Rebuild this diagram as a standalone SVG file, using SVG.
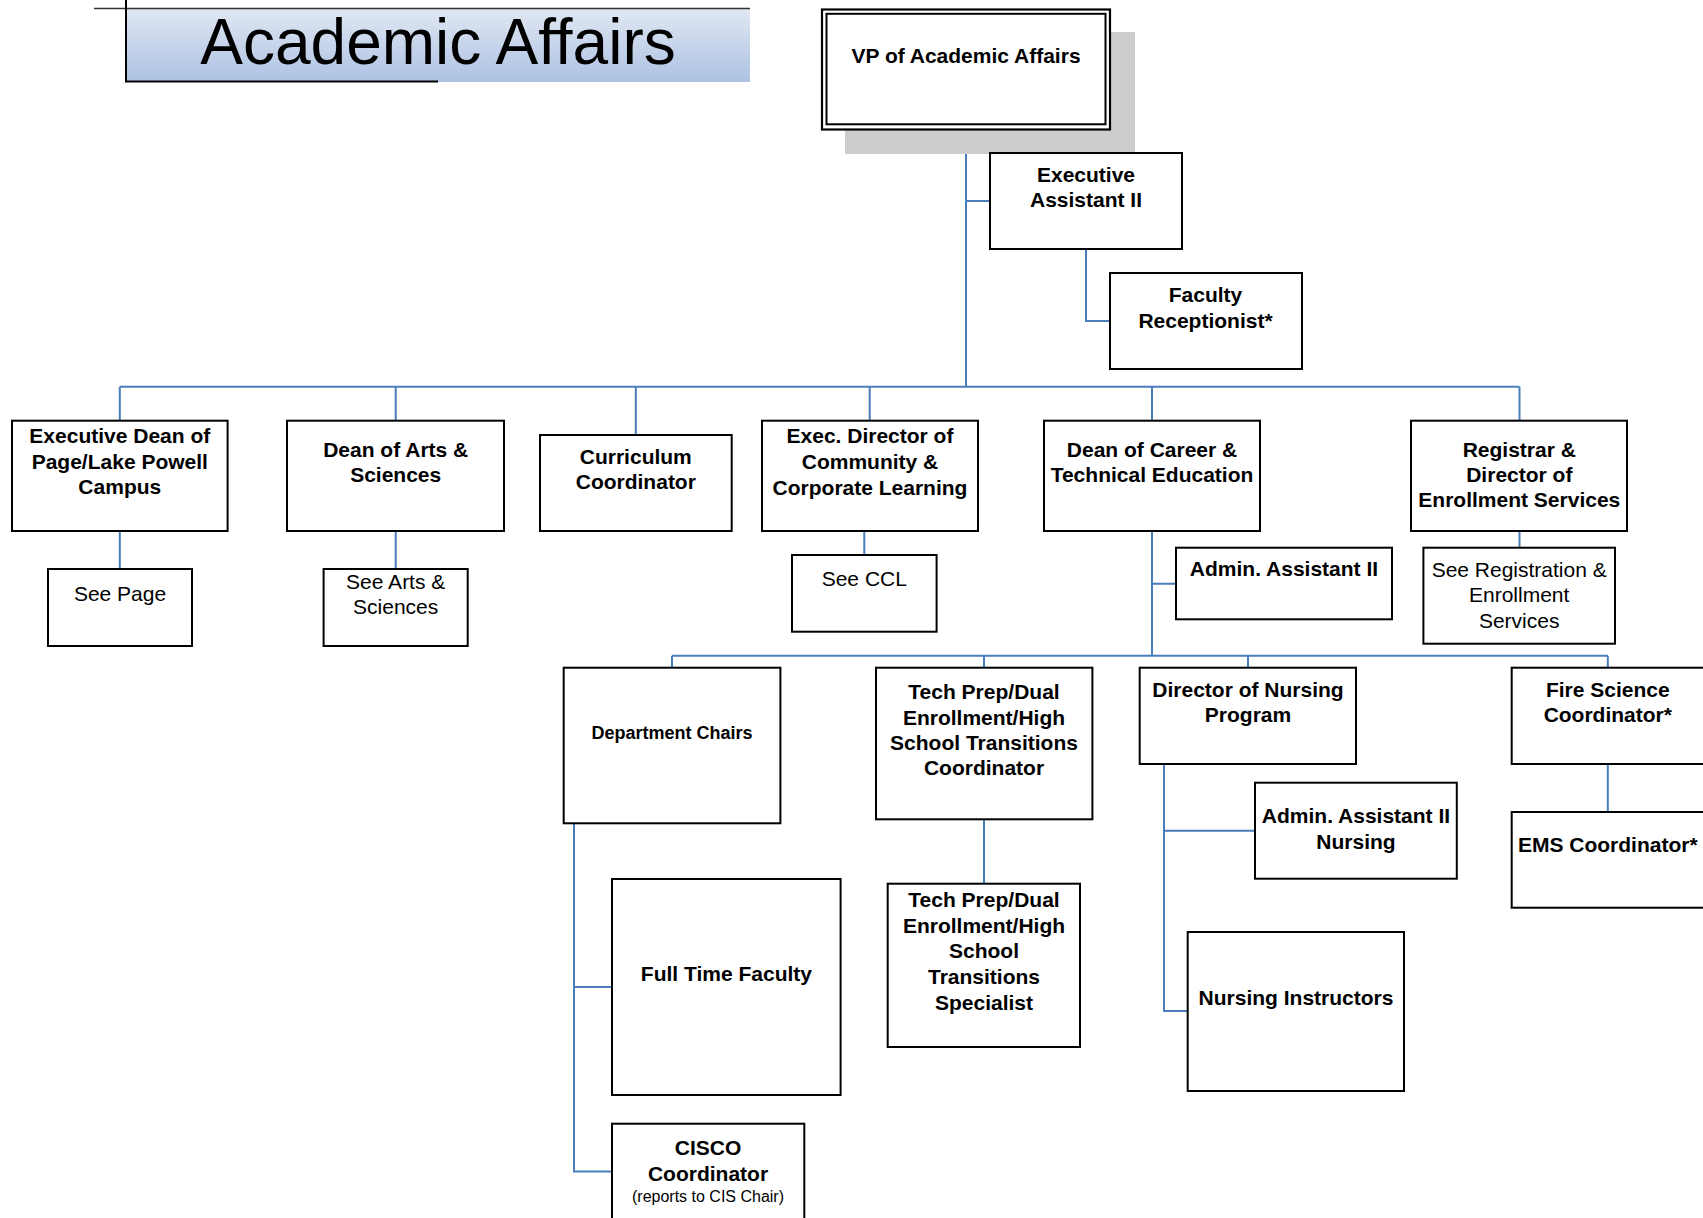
<svg xmlns="http://www.w3.org/2000/svg" width="1703" height="1218" viewBox="0 0 1703 1218">
<defs>
<linearGradient id="titleGrad" x1="0" y1="0" x2="0" y2="1">
<stop offset="0" stop-color="#e0e7f2"/>
<stop offset="1" stop-color="#adc2e3"/>
</linearGradient>
<style>
.box{fill:#ffffff;stroke:#000000;stroke-width:2}
.conn{fill:none;stroke:#4a7ebb;stroke-width:2}
.t{font-family:"Liberation Sans",Arial,sans-serif;font-size:21px;font-weight:bold;fill:#000000;text-anchor:middle}
.r{font-family:"Liberation Sans",Arial,sans-serif;font-size:21px;fill:#000000;text-anchor:middle}
</style>
</defs>
<rect width="1703" height="1218" fill="#ffffff"/>

<g id="title">
<rect x="126" y="9" width="624" height="73" fill="url(#titleGrad)"/>
<line x1="94" y1="8.5" x2="750" y2="8.5" stroke="#333333" stroke-width="1.6"/>
<line x1="126" y1="0" x2="126" y2="82" stroke="#000000" stroke-width="2"/>
<line x1="125" y1="81.5" x2="438" y2="81.5" stroke="#000000" stroke-width="2"/>
<text x="438" y="64" font-family="Liberation Sans,Arial,sans-serif" font-size="64" text-anchor="middle" fill="#000000">Academic Affairs</text>
</g>

<g id="connectors">
<path class="conn" d="M966 129 V386.7"/>
<path class="conn" d="M966 201 H990"/>
<path class="conn" d="M1086 249 V321 H1110"/>
<path class="conn" d="M119.8 386.7 H1519.5"/>
<path class="conn" d="M119.8 386.7 V420.7 M395.7 386.7 V420.7 M635.8 386.7 V435 M869.7 386.7 V420.7 M1152 386.7 V420.7 M1519.5 386.7 V420.7"/>
<path class="conn" d="M119.8 531 V569 M395.7 531 V569 M864.3 531 V555 M1519.5 531 V547.7"/>
<path class="conn" d="M1152 531 V655.7 M1152 583.7 H1176"/>
<path class="conn" d="M672 655.7 H1607.8"/>
<path class="conn" d="M672 655.7 V667.7 M984 655.7 V667.7 M1248 655.7 V667.7 M1607.8 655.7 V667.7"/>
<path class="conn" d="M574 823.3 V1171.5 H612 M574 987 H612"/>
<path class="conn" d="M984 819.3 V883.7"/>
<path class="conn" d="M1164 764 V1011 H1187.7 M1164 830.7 H1255"/>
<path class="conn" d="M1607.8 764 V812"/>
</g>

<g id="vp">
<rect x="845" y="32" width="290" height="122" fill="#cccccc"/>
<rect x="822" y="9.5" width="288" height="120" fill="#ffffff" stroke="#000000" stroke-width="2.2"/>
<rect x="826.5" y="13.8" width="279" height="110.5" fill="none" stroke="#000000" stroke-width="2"/>
<text class="t" x="966" y="62.7">VP of Academic Affairs</text>
</g>

<g id="exec-assistant">
<rect class="box" x="990" y="153" width="192" height="96"/>
<text class="t" x="1086" y="181.7">Executive</text>
<text class="t" x="1086" y="207.3">Assistant II</text>
</g>

<g id="faculty-receptionist">
<rect class="box" x="1110" y="273" width="192" height="96"/>
<text class="t" x="1205.5" y="301.7">Faculty</text>
<text class="t" x="1205.5" y="327.5">Receptionist*</text>
</g>

<g id="exec-dean-page">
<rect class="box" x="12" y="420.7" width="215.6" height="110.3"/>
<text class="t" x="119.8" y="443">Executive Dean of</text>
<text class="t" x="119.8" y="468.7">Page/Lake Powell</text>
<text class="t" x="119.8" y="494.3">Campus</text>
</g>

<g id="dean-arts">
<rect class="box" x="287" y="420.7" width="217" height="110.3"/>
<text class="t" x="395.7" y="457">Dean of Arts &amp;</text>
<text class="t" x="395.7" y="481.7">Sciences</text>
</g>

<g id="curriculum">
<rect class="box" x="540" y="435" width="191.7" height="96"/>
<text class="t" x="635.8" y="464.3">Curriculum</text>
<text class="t" x="635.8" y="489">Coordinator</text>
</g>

<g id="exec-director-ccl">
<rect class="box" x="762" y="420.7" width="216" height="110.3"/>
<text class="t" x="870" y="443.3">Exec. Director of</text>
<text class="t" x="870" y="469">Community &amp;</text>
<text class="t" x="870" y="495">Corporate Learning</text>
</g>

<g id="dean-career">
<rect class="box" x="1044" y="420.7" width="216" height="110.3"/>
<text class="t" x="1152" y="457.3">Dean of Career &amp;</text>
<text class="t" x="1152" y="481.7">Technical Education</text>
</g>

<g id="registrar">
<rect class="box" x="1411" y="420.7" width="216" height="110.3"/>
<text class="t" x="1519.3" y="457.3">Registrar &amp;</text>
<text class="t" x="1519.3" y="481.7">Director of</text>
<text class="t" x="1519.3" y="507.3">Enrollment Services</text>
</g>

<g id="see-page">
<rect class="box" x="48" y="569" width="144" height="77"/>
<text class="r" x="120" y="600.7">See Page</text>
</g>

<g id="see-arts">
<rect class="box" x="323.6" y="569" width="144.1" height="77"/>
<text class="r" x="395.7" y="589">See Arts &amp;</text>
<text class="r" x="395.7" y="614">Sciences</text>
</g>

<g id="see-ccl">
<rect class="box" x="792" y="555" width="144.6" height="76.7"/>
<text class="r" x="864.3" y="586">See CCL</text>
</g>

<g id="admin-assistant-career">
<rect class="box" x="1176" y="547.7" width="216" height="71.6"/>
<text class="t" x="1284" y="576">Admin. Assistant II</text>
</g>

<g id="see-registration">
<rect class="box" x="1423.4" y="547.7" width="191.6" height="96"/>
<text class="r" x="1519.2" y="576.7">See Registration &amp;</text>
<text class="r" x="1519.2" y="602.3">Enrollment</text>
<text class="r" x="1519.2" y="627.7">Services</text>
</g>

<g id="department-chairs">
<rect class="box" x="563.7" y="667.7" width="216.7" height="155.6"/>
<text class="t" x="672" y="739.3" style="font-size:18px">Department Chairs</text>
</g>

<g id="tech-prep-coordinator">
<rect class="box" x="876" y="667.7" width="216.4" height="151.6"/>
<text class="t" x="984" y="699.3">Tech Prep/Dual</text>
<text class="t" x="984" y="724.5">Enrollment/High</text>
<text class="t" x="984" y="750">School Transitions</text>
<text class="t" x="984" y="775">Coordinator</text>
</g>

<g id="director-nursing">
<rect class="box" x="1139.7" y="667.7" width="216.3" height="96.3"/>
<text class="t" x="1248" y="696.7">Director of Nursing</text>
<text class="t" x="1248" y="721.7">Program</text>
</g>

<g id="fire-science">
<rect class="box" x="1511.7" y="667.7" width="200" height="96.3"/>
<text class="t" x="1607.8" y="696.7">Fire Science</text>
<text class="t" x="1607.8" y="721.7">Coordinator*</text>
</g>

<g id="admin-assistant-nursing">
<rect class="box" x="1255" y="782.7" width="201.8" height="96"/>
<text class="t" x="1356" y="823.3">Admin. Assistant II</text>
<text class="t" x="1356" y="849.3">Nursing</text>
</g>

<g id="ems-coordinator">
<rect class="box" x="1511.7" y="812" width="200" height="95.7"/>
<text class="t" x="1607.8" y="851.7">EMS Coordinator*</text>
</g>

<g id="full-time-faculty">
<rect class="box" x="612" y="879" width="228.6" height="216"/>
<text class="t" x="726.4" y="980.7">Full Time Faculty</text>
</g>

<g id="tech-prep-specialist">
<rect class="box" x="887.7" y="883.7" width="192.3" height="163.3"/>
<text class="t" x="984" y="906.7">Tech Prep/Dual</text>
<text class="t" x="984" y="932.5">Enrollment/High</text>
<text class="t" x="984" y="958.2">School</text>
<text class="t" x="984" y="984">Transitions</text>
<text class="t" x="984" y="1009.5">Specialist</text>
</g>

<g id="nursing-instructors">
<rect class="box" x="1187.7" y="932" width="216.3" height="159"/>
<text class="t" x="1296" y="1005">Nursing Instructors</text>
</g>

<g id="cisco-coordinator">
<rect class="box" x="612" y="1123.7" width="192.3" height="110"/>
<text class="t" x="708" y="1155">CISCO</text>
<text class="t" x="708" y="1180.7">Coordinator</text>
<text class="r" x="708" y="1201.7" style="font-size:16px">(reports to CIS Chair)</text>
</g>
</svg>
